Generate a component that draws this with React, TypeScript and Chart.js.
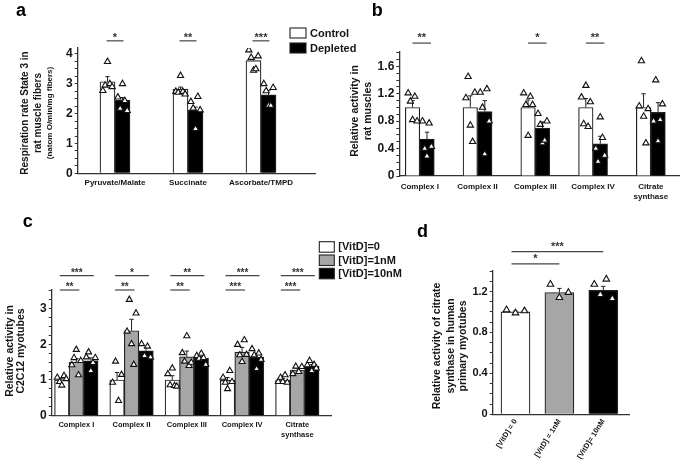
import React, { useEffect, useRef } from 'react';
import { Chart, registerables } from 'chart.js';

Chart.register(...registerables);

const FONT = "Arial, 'Liberation Sans', Helvetica, sans-serif";
const AXIS = '#333333';
const TEXT = '#151515';
const OUTLINE = '#222222';
const WHITE = '#ffffff';
const GRAY = '#a6a6a6';
const BLACK = '#000000';

// ---------- Panel a ----------
const A_CATEGORIES = ['Pyruvate/Malate', 'Succinate', 'Ascorbate/TMPD'];
const A_CONTROL = [3.07, 2.82, 3.78];
const A_CONTROL_SEM = [0.17, 0.07, 0.1];
const A_DEPLETED = [2.45, 2.11, 2.63];
const A_DEPLETED_SEM = [0.09, 0.11, 0.15];
const A_CONTROL_POINTS = [
  [2.77, 2.95, 3.74, 3.0, 2.9],
  [2.74, 2.71, 3.27, 2.74, 2.65],
  [4.13, 3.88, 3.45, 3.5, 3.93],
];
const A_DEPLETED_POINTS = [
  [2.55, 2.17, 3.0, 2.43, 2.1],
  [2.4, 2.18, 1.49, 2.57, 2.12],
  [3.0, 2.76, 2.27, 2.27, 2.87],
];
const A_SIGNIFICANCE = ['*', '**', '***'];
const A_SIG_LEVEL = 4.44;

// ---------- Panel b ----------
const B_CATEGORIES: (string | string[])[] = ['Complex I', 'Complex II', 'Complex III', 'Complex IV', ['Citrate', 'synthase']];
const B_CONTROL = [1.0, 1.0, 1.0, 1.0, 1.0];
const B_CONTROL_SEM = [0.1, 0.17, 0.11, 0.13, 0.2];
const B_DEPLETED = [0.54, 0.94, 0.7, 0.47, 0.93];
const B_DEPLETED_SEM = [0.1, 0.16, 0.09, 0.11, 0.14];
const B_CONTROL_POINTS = [
  [1.21, 1.09, 0.82, 1.16, 0.8],
  [1.14, 1.45, 0.74, 0.5, 1.22],
  [1.21, 1.04, 0.59, 1.16, 1.04],
  [1.15, 0.76, 1.32, 0.72, 1.08],
  [1.02, 1.68, 0.87, 0.48, 0.98],
];
const B_DEPLETED_POINTS = [
  [0.8, 0.4, 0.29, 0.77, 0.43],
  [1.22, 1.0, 0.32, 1.27, 0.8],
  [0.91, 0.75, 0.48, 0.52, 0.8],
  [0.4, 0.21, 0.86, 0.56, 0.3],
  [0.8, 1.4, 0.51, 0.82, 1.05],
];
const B_SIGNIFICANCE = ['**', '', '*', '**', ''];
const B_SIG_LEVEL = 1.94;

// ---------- Panel c ----------
const C_CATEGORIES: (string | string[])[] = ['Complex I', 'Complex II', 'Complex III', 'Complex IV', ['Citrate', 'synthase']];
const C_VITD0 = [1.0, 1.0, 1.0, 0.99, 1.0];
const C_VITD0_SEM = [0.05, 0.21, 0.12, 0.08, 0.04];
const C_VITD1 = [1.5, 2.38, 1.65, 1.78, 1.28];
const C_VITD1_SEM = [0.1, 0.32, 0.16, 0.13, 0.05];
const C_VITD10 = [1.54, 1.82, 1.61, 1.64, 1.38];
const C_VITD10_SEM = [0.08, 0.09, 0.05, 0.09, 0.05];
const C_VITD0_POINTS = [
  [1.07, 0.95, 0.85, 1.12, 1.03],
  [0.93, 1.52, 0.42, 1.15],
  [1.17, 0.86, 1.33, 0.84, 0.82],
  [1.07, 0.93, 0.75, 1.26, 0.95],
  [0.95, 1.07, 0.95, 1.14, 0.93],
];
const C_VITD1_POINTS = [
  [1.42, 1.62, 1.85, 1.14, 1.54],
  [2.36, 3.25, 2.01, 1.43, 2.87],
  [1.76, 1.52, 2.23, 1.4, 1.49],
  [1.99, 1.7, 1.51, 2.12, 1.71],
  [1.17, 1.38, 1.23, 1.37],
];
const C_VITD10_POINTS = [
  [1.64, 1.78, 1.26, 1.48, 1.62],
  [2.01, 1.68, 1.94, 1.64],
  [1.68, 1.6, 1.74, 1.62, 1.43],
  [1.87, 1.7, 1.31, 1.75, 1.57],
  [1.42, 1.54, 1.26, 1.43, 1.33],
];
const C_SIG_TOP = ['***', '*', '**', '***', '***'];
const C_SIG_TOP_LEVEL = 3.92;
const C_SIG_LOW = ['**', '**', '**', '***', '***'];
const C_SIG_LOW_LEVEL = 3.52;

// ---------- Panel d ----------
const D_CATEGORIES = ['[VitD] = 0', '[VitD] = 1nM', '[VitD]= 10nM'];
const D_MEAN = [1.0, 1.19, 1.21];
const D_SEM = [0.01, 0.04, 0.04];
const D_POINTS = [
  [1.02, 0.99, 1.01],
  [1.27, 1.14, 1.19],
  [1.27, 1.17, 1.32, 1.13],
];
const D_SIG = ['*', '***'];
const D_SIG_LEVELS = [1.47, 1.59];

// ---------- layout types ----------
type Box = { x: number; y: number; w: number; h: number };
type Area = { l: number; r: number; t: number; b: number };
interface Series { label: string; values: number[]; sem: number[]; points: number[][]; fill: string | string[] }
interface Sig { from: [number, number]; to: [number, number]; value: number; label: string }
interface Panel {
  box: Box; area: Area; first: number; spacing: number; barPx: number;
  categories: (string | string[])[];
  series: Series[];
  yMax: number; yTop: number; yMinor: number; yMajor: number;
  xAxisH: number; xFont: number; xPad: number; xRot: number;
  yFont: number; pointR: number;
  letter: { text: string; x: number; y: number };
  titles: { text: string; x: number; y: number; size: number }[];
  legend?: { x: number; y: number[]; w: number; h: number; tx: number; size: number };
  sigs: Sig[]; sigFont: number; sigGap: number; sigExt: [number, number];
}

const Y_AXIS_W = 28;
const SPREAD = 0.62;

const PANELS: Panel[] = [
  {
    box: { x: 0, y: 0, w: 360, h: 210 },
    area: { l: 77.7, r: 315, t: 48, b: 173.3 },
    first: 115, spacing: 73, barPx: 15,
    categories: A_CATEGORIES,
    series: [
      { label: 'Control', values: A_CONTROL, sem: A_CONTROL_SEM, points: A_CONTROL_POINTS, fill: WHITE },
      { label: 'Depleted', values: A_DEPLETED, sem: A_DEPLETED_SEM, points: A_DEPLETED_POINTS, fill: BLACK },
    ],
    yMax: 4.2, yTop: 4, yMinor: 0.25, yMajor: 1,
    xAxisH: 28, xFont: 8, xPad: 4, xRot: 0, yFont: 12, pointR: 3.6,
    letter: { text: 'a', x: 16, y: 16 },
    titles: [
      { text: 'Respiration rate State 3 in', x: 25, y: 113, size: 10 },
      { text: 'rat muscle fibers', x: 38.3, y: 113, size: 10 },
      { text: '(natom O/min/mg fibers)', x: 50, y: 113, size: 8 },
    ],
    legend: { x: 290, y: [28, 43], w: 16, h: 10, tx: 310, size: 11 },
    sigs: A_SIGNIFICANCE.map((s, i) => ({ from: [i, 0] as [number, number], to: [i, 1] as [number, number], value: A_SIG_LEVEL, label: s })),
    sigFont: 11, sigGap: 0, sigExt: [1, 1],
  },
  {
    box: { x: 340, y: 0, w: 345, h: 210 },
    area: { l: 399.3, r: 683, t: 51.3, b: 176 },
    first: 420, spacing: 58.4, barPx: 14.5,
    categories: B_CATEGORIES,
    series: [
      { label: 'Control', values: B_CONTROL, sem: B_CONTROL_SEM, points: B_CONTROL_POINTS, fill: WHITE },
      { label: 'Depleted', values: B_DEPLETED, sem: B_DEPLETED_SEM, points: B_DEPLETED_POINTS, fill: BLACK },
    ],
    yMax: 1.82, yTop: 1.8, yMinor: 0.1, yMajor: 0.4,
    xAxisH: 30, xFont: 8, xPad: 6, xRot: 0, yFont: 12, pointR: 3.6,
    letter: { text: 'b', x: 371.7, y: 16 },
    titles: [
      { text: 'Relative activity in', x: 355, y: 111, size: 10.5 },
      { text: 'rat muscles', x: 368.3, y: 111, size: 10.5 },
    ],
    sigs: B_SIGNIFICANCE
      .map((s, i) => ({ from: [i, 0] as [number, number], to: [i, 1] as [number, number], value: B_SIG_LEVEL, label: s }))
      .filter((s) => s.label !== ''),
    sigFont: 11, sigGap: 2.5, sigExt: [0, 4],
  },
  {
    box: { x: 0, y: 210, w: 420, h: 252 },
    area: { l: 51.7, r: 331, t: 290, b: 415.7 },
    first: 76.3, spacing: 55.25, barPx: 14.5,
    categories: C_CATEGORIES,
    series: [
      { label: '[VitD]=0', values: C_VITD0, sem: C_VITD0_SEM, points: C_VITD0_POINTS, fill: WHITE },
      { label: '[VitD]=1nM', values: C_VITD1, sem: C_VITD1_SEM, points: C_VITD1_POINTS, fill: GRAY },
      { label: '[VitD]=10nM', values: C_VITD10, sem: C_VITD10_SEM, points: C_VITD10_POINTS, fill: BLACK },
    ],
    yMax: 3.52, yTop: 3.5, yMinor: 0.25, yMajor: 1,
    xAxisH: 30, xFont: 7.5, xPad: 5, xRot: 0, yFont: 12, pointR: 3.5,
    letter: { text: 'c', x: 22.7, y: 227 },
    titles: [
      { text: 'Relative activity in', x: 10, y: 351, size: 10.5 },
      { text: 'C2C12 myotubes', x: 21.5, y: 351, size: 10.5 },
    ],
    legend: { x: 319.3, y: [241.7, 255, 268.3], w: 15, h: 10.5, tx: 338.3, size: 11 },
    sigs: [
      ...C_SIG_TOP.map((s, i) => ({ from: [i, 0] as [number, number], to: [i, 2] as [number, number], value: C_SIG_TOP_LEVEL, label: s })),
      ...C_SIG_LOW.map((s, i) => ({ from: [i, 0] as [number, number], to: [i, 1] as [number, number], value: C_SIG_LOW_LEVEL, label: s })),
    ],
    sigFont: 10, sigGap: 0, sigExt: [2, 3],
  },
  {
    box: { x: 412, y: 210, w: 273, h: 252 },
    area: { l: 492.7, r: 629, t: 271, b: 414.3 },
    first: 515.5, spacing: 43.9, barPx: 29,
    categories: D_CATEGORIES,
    series: [
      { label: '', values: D_MEAN, sem: D_SEM, points: D_POINTS, fill: [WHITE, GRAY, BLACK] },
    ],
    yMax: 1.4, yTop: 1.4, yMinor: 0.1, yMajor: 0.4,
    xAxisH: 45, xFont: 7.5, xPad: 3, xRot: 58, yFont: 11, pointR: 3.8,
    letter: { text: 'd', x: 417, y: 237 },
    titles: [
      { text: 'Relative activity of citrate', x: 436.7, y: 346, size: 10.5 },
      { text: 'synthase in human', x: 450.7, y: 346, size: 10.5 },
      { text: 'primary myotubes', x: 463.3, y: 346, size: 10.5 },
    ],
    sigs: D_SIG.map((s, i) => ({ from: [0, 0] as [number, number], to: [i + 1, 0] as [number, number], value: D_SIG_LEVELS[i], label: s })),
    sigFont: 11, sigGap: 1.5, sigExt: [4, 0],
  },
];

const errorBarPlugin = {
  id: 'errorBars',
  afterDatasetDraw(chart: any, args: any) {
    const ds = chart.data.datasets[args.index];
    if (!ds.sem) return;
    const ys = chart.scales.y;
    const ctx = chart.ctx;
    ctx.save();
    ctx.strokeStyle = OUTLINE;
    ctx.lineWidth = 1;
    args.meta.data.forEach((el: any, i: number) => {
      const v = ds.data[i].y;
      const base = ys.getPixelForValue(v);
      const top = ys.getPixelForValue(v + ds.sem[i]);
      ctx.beginPath();
      ctx.moveTo(el.x, base);
      ctx.lineTo(el.x, top);
      ctx.moveTo(el.x - 2.2, top);
      ctx.lineTo(el.x + 2.2, top);
      ctx.stroke();
    });
    ctx.restore();
  },
};

function decorPlugin(p: Panel) {
  return {
    id: 'decor',
    afterDraw(chart: any) {
      const ctx = chart.ctx as CanvasRenderingContext2D;
      const xs = chart.scales.x;
      const ys = chart.scales.y;
      const K = p.series.length;
      const center = (i: number, k: number) => xs.getPixelForValue(i) + (k - (K - 1) / 2) * p.barPx;
      ctx.save();
      ctx.strokeStyle = '#444';
      ctx.lineWidth = 1.2;
      ctx.fillStyle = '#333';
      ctx.font = `bold ${p.sigFont}px ${FONT}`;
      ctx.textAlign = 'center';
      ctx.textBaseline = 'alphabetic';
      p.sigs.forEach((s) => {
        const y = ys.getPixelForValue(s.value);
        const x1 = center(s.from[0], s.from[1]) - p.sigExt[0];
        const x2 = center(s.to[0], s.to[1]) + p.sigExt[1];
        ctx.beginPath();
        ctx.moveTo(x1, y);
        ctx.lineTo(x2, y);
        ctx.stroke();
        ctx.fillText(s.label, (x1 + x2) / 2, y - p.sigGap);
      });

      ctx.translate(-p.box.x, -p.box.y);
      // panel letter
      ctx.fillStyle = '#000';
      ctx.font = `bold 18px ${FONT}`;
      ctx.textAlign = 'left';
      ctx.textBaseline = 'alphabetic';
      ctx.fillText(p.letter.text, p.letter.x, p.letter.y);

      // y titles
      ctx.fillStyle = TEXT;
      p.titles.forEach((t) => {
        ctx.save();
        ctx.translate(t.x, t.y);
        ctx.rotate(-Math.PI / 2);
        ctx.font = `bold ${t.size}px ${FONT}`;
        ctx.textAlign = 'center';
        ctx.textBaseline = 'middle';
        ctx.fillText(t.text, 0, 0);
        ctx.restore();
      });

      // legend
      if (p.legend) {
        const lg = p.legend;
        p.series.forEach((s, k) => {
          const y = lg.y[k];
          ctx.fillStyle = typeof s.fill === 'string' ? s.fill : s.fill[0];
          ctx.fillRect(lg.x, y, lg.w, lg.h);
          ctx.strokeStyle = OUTLINE;
          ctx.lineWidth = 1.1;
          ctx.strokeRect(lg.x, y, lg.w, lg.h);
          ctx.fillStyle = TEXT;
          ctx.font = `bold ${lg.size}px ${FONT}`;
          ctx.textAlign = 'left';
          ctx.textBaseline = 'middle';
          ctx.fillText(s.label, lg.tx, y + lg.h / 2 + 0.5);
        });
      }
      ctx.restore();
    },
  };
}

function buildConfig(p: Panel): any {
  const K = p.series.length;
  const bu = p.barPx / p.spacing;
  const datasets: any[] = [];
  p.series.forEach((s) => {
    datasets.push({
      type: 'bar',
      label: s.label,
      data: s.values.map((v, i) => ({ x: i, y: v })),
      sem: s.sem,
      backgroundColor: s.fill,
      borderColor: OUTLINE,
      borderWidth: 1.2,
      barThickness: p.barPx,
      grouped: true,
      order: 2,
    });
  });
  p.series.forEach((s, k) => {
    const pts: { x: number; y: number }[] = [];
    s.points.forEach((group, i) => {
      const n = group.length;
      group.forEach((v, j) => {
        const jitter = n > 1 ? (j / (n - 1) - 0.5) * SPREAD : 0;
        pts.push({ x: i + (k - (K - 1) / 2) * bu + jitter * bu, y: v });
      });
    });
    datasets.push({
      type: 'scatter',
      label: s.label + ' points',
      data: pts,
      pointStyle: 'triangle',
      pointRadius: p.pointR,
      pointBackgroundColor: WHITE,
      pointBorderColor: '#111',
      pointBorderWidth: 1.1,
      order: 0,
    });
  });

  return {
    type: 'bar',
    data: { datasets },
    options: {
      responsive: false,
      animation: false,
      devicePixelRatio: 1,
      events: [],
      layout: {
        padding: {
          left: p.area.l - p.box.x - Y_AXIS_W,
          top: p.area.t - p.box.y,
          right: p.box.x + p.box.w - p.area.r,
          bottom: p.box.y + p.box.h - p.area.b - p.xAxisH,
        },
      },
      plugins: {
        legend: { display: false },
        tooltip: { enabled: false },
        title: { display: false },
      },
      scales: {
        x: {
          type: 'linear',
          bounds: 'data',
          offset: false,
          min: (p.area.l - p.first) / p.spacing,
          max: (p.area.r - p.first) / p.spacing,
          grid: { display: false, drawTicks: false, offset: false },
          border: { display: true, color: AXIS, width: 1.3 },
          afterBuildTicks: (s: any) => {
            s.ticks = p.categories.map((_, i) => ({ value: i }));
          },
          afterFit: (s: any) => {
            s.height = p.xAxisH;
          },
          ticks: {
            autoSkip: false,
            minRotation: p.xRot,
            maxRotation: p.xRot,
            padding: p.xPad,
            color: TEXT,
            font: { size: p.xFont, weight: 'bold', family: FONT, lineHeight: 1.25 },
            callback: (v: number) => p.categories[Math.round(v)] ?? '',
          },
        },
        y: {
          type: 'linear',
          bounds: 'data',
          min: 0,
          max: p.yMax,
          grid: { display: true, drawOnChartArea: false, drawTicks: true, tickLength: 3, color: AXIS, lineWidth: 1 },
          border: { display: true, color: AXIS, width: 1.3 },
          afterBuildTicks: (s: any) => {
            const n = Math.round(p.yTop / p.yMinor);
            const t = [];
            for (let i = 0; i <= n; i++) t.push({ value: +(i * p.yMinor).toFixed(4) });
            s.ticks = t;
          },
          afterFit: (s: any) => {
            s.width = Y_AXIS_W;
          },
          ticks: {
            autoSkip: false,
            padding: 2,
            color: TEXT,
            font: { size: p.yFont, weight: 'bold', family: FONT },
            callback: (v: number) => {
              const r = v / p.yMajor;
              if (Math.abs(r - Math.round(r)) > 1e-6) return '';
              if (p.yMajor >= 1) return String(Math.round(v));
              return Math.abs(v) < 1e-9 ? '0' : v.toFixed(1);
            },
          },
        },
      },
    },
    plugins: [errorBarPlugin, decorPlugin(p)],
  };
}

export default function App() {
  const r0 = useRef<HTMLCanvasElement>(null);
  const r1 = useRef<HTMLCanvasElement>(null);
  const r2 = useRef<HTMLCanvasElement>(null);
  const r3 = useRef<HTMLCanvasElement>(null);
  const refs = [r0, r1, r2, r3];

  useEffect(() => {
    Chart.defaults.font.family = FONT;
    const charts = PANELS.map((p, i) => new Chart(refs[i].current as HTMLCanvasElement, buildConfig(p)));
    return () => charts.forEach((c) => c.destroy());
  }, []);

  return (
    <div style={{ position: 'fixed', left: 0, top: 0, width: 685, height: 462, background: '#ffffff', overflow: 'hidden' }}>
      {PANELS.map((p, i) => (
        <canvas
          key={i}
          ref={refs[i]}
          width={p.box.w}
          height={p.box.h}
          style={{ position: 'absolute', left: p.box.x, top: p.box.y, width: p.box.w, height: p.box.h }}
        />
      ))}
    </div>
  );
}
